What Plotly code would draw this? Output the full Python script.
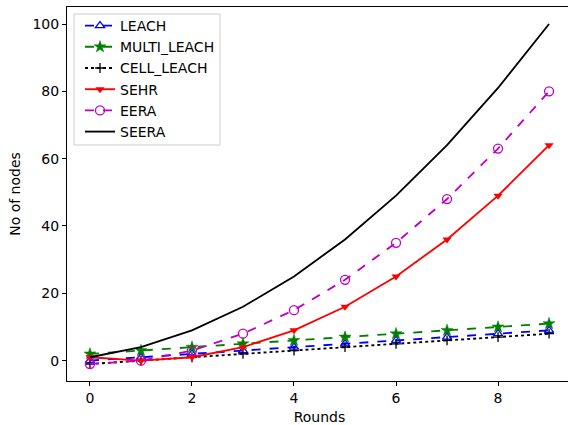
import plotly.graph_objects as go

rounds = [0, 1, 2, 3, 4, 5, 6, 7, 8, 9]
leach = [0, 1, 2, 3, 4, 5, 6, 7, 8, 9]
multi_leach = [2, 3, 4, 5, 6, 7, 8, 9, 10, 11]
cell_leach = [-1, 0, 1, 2, 3, 4, 5, 6, 7, 8]
sehr = [1, 0, 1, 4, 9, 16, 25, 36, 49, 64]
eera = [-1, 0, 3, 8, 15, 24, 35, 48, 63, 80]
seera = [1, 4, 9, 16, 25, 36, 49, 64, 81, 100]

x_ticks = [0, 2, 4, 6, 8]
y_ticks = [0, 20, 40, 60, 80, 100]

LW = 1.85
MS = 8
FS = 14
FONT = "DejaVu Sans"

# plot area in pixels (the right spine lies just past the visible window)
PW = 505
PH = 374

fig = go.Figure()
fig.add_trace(go.Scatter(x=rounds, y=leach, name="LEACH", mode="lines+markers",
                         line=dict(color="blue", dash="dash", width=LW),
                         marker=dict(symbol="triangle-up-open", size=MS, color="blue", line=dict(width=1.3))))
fig.add_trace(go.Scatter(x=rounds, y=multi_leach, name="MULTI_LEACH", mode="lines+markers",
                         line=dict(color="green", dash="dash", width=LW),
                         marker=dict(symbol="star", size=MS + 1, color="green", line=dict(width=0.5, color="green"))))
fig.add_trace(go.Scatter(x=rounds, y=cell_leach, name="CELL_LEACH", mode="lines+markers",
                         line=dict(color="black", dash="dot", width=LW),
                         marker=dict(symbol="cross-thin-open", size=MS - 1, color="black", line=dict(width=1.3, color="black"))))
fig.add_trace(go.Scatter(x=rounds, y=sehr, name="SEHR", mode="lines+markers",
                         line=dict(color="red", width=LW),
                         marker=dict(symbol="triangle-down", size=MS, color="red")))
fig.add_trace(go.Scatter(x=rounds, y=eera, name="EERA", mode="lines+markers",
                         line=dict(color="#bf00bf", dash="dash", width=LW),
                         marker=dict(symbol="circle-open", size=MS + 1, color="#bf00bf", line=dict(width=1.3))))
fig.add_trace(go.Scatter(x=rounds, y=seera, name="SEERA", mode="lines",
                         line=dict(color="black", width=LW)))

axis_common = dict(showline=True, linecolor="black", linewidth=1, mirror=True,
                   ticks="outside", ticklen=4, tickcolor="black", tickwidth=1,
                   showgrid=False, zeroline=False,
                   tickfont=dict(family=FONT, size=FS, color="black"))

fig.update_xaxes(range=[-0.45, 9.45], tickvals=x_ticks,
                 title=dict(text="Rounds", font=dict(family=FONT, size=FS, color="black"), standoff=7),
                 **axis_common)
fig.update_yaxes(range=[-6.05, 105.05], tickvals=y_ticks,
                 title=dict(text="No of nodes", font=dict(family=FONT, size=FS, color="black"), standoff=8),
                 **axis_common)

# legend frame
fig.add_shape(type="rect", xref="paper", yref="paper",
              x0=7 / PW, x1=153 / PW, y0=1 - 138 / PH, y1=1 - 7 / PH,
              line=dict(color="#cccccc", width=1), fillcolor="rgba(255,255,255,0.8)", layer="above")

fig.update_layout(
    width=67 + PW, height=425,
    margin=dict(l=67, r=0, t=7, b=44),
    paper_bgcolor="white", plot_bgcolor="white",
    font=dict(family=FONT, size=FS, color="black"),
    legend=dict(x=13 / PW, y=0.992, xanchor="left", yanchor="top",
                bgcolor="rgba(0,0,0,0)", borderwidth=0,
                font=dict(family=FONT, size=FS, color="black"),
                itemwidth=30, tracegroupgap=0),
)

fig.write_html("out.html", config={"displayModeBar": False},
               post_script="document.body.style.margin='0';document.body.style.overflow='hidden';")
